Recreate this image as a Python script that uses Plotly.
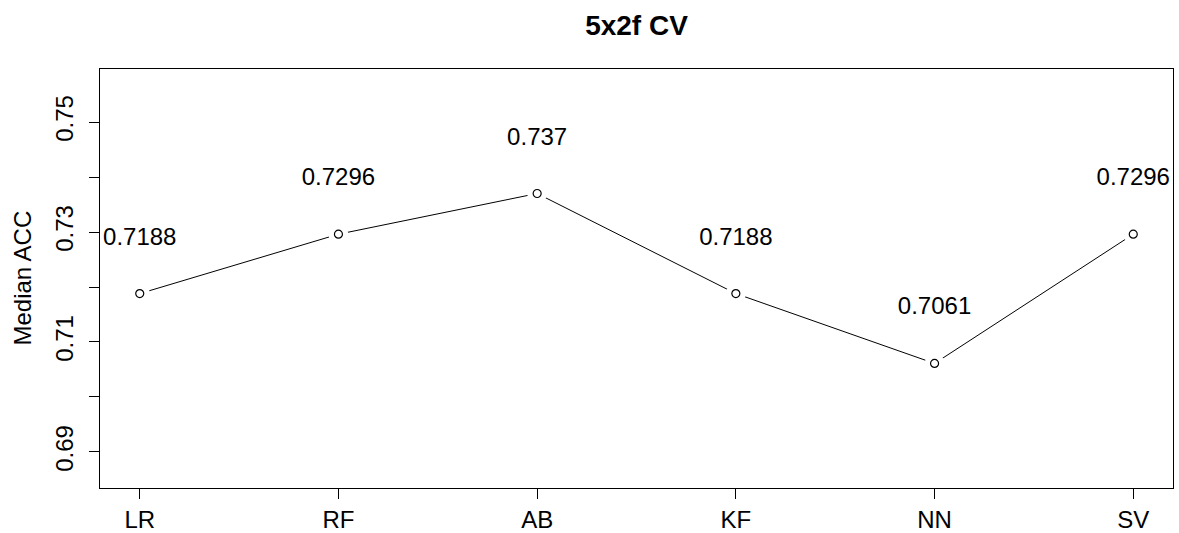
import plotly.graph_objects as go

# Median accuracy of each classifier under 5x2-fold cross-validation
models = ["LR", "RF", "AB", "KF", "NN", "SV"]
median_acc = [0.7188, 0.7296, 0.737, 0.7188, 0.7061, 0.7296]
value_labels = ["0.7188", "0.7296", "0.737", "0.7188", "0.7061", "0.7296"]

y_tickvals = [0.69, 0.70, 0.71, 0.72, 0.73, 0.74, 0.75]
y_ticktext = ["0.69", "", "0.71", "", "0.73", "", "0.75"]

xpos = list(range(1, len(models) + 1))
label_offset = 0.01
label_y = [v + label_offset for v in median_acc]

FONT = "Liberation Sans, Arial, Helvetica, sans-serif"
FS = 24

fig = go.Figure()

# connecting line
fig.add_trace(go.Scatter(
    x=xpos, y=median_acc, mode="lines",
    line=dict(color="black", width=1), hoverinfo="skip", showlegend=False,
))
# white halo so the line stops short of each point
fig.add_trace(go.Scatter(
    x=xpos, y=median_acc, mode="markers",
    marker=dict(symbol="circle", size=20, color="white", line=dict(width=0)),
    hoverinfo="skip", showlegend=False,
))
# open circle points
fig.add_trace(go.Scatter(
    x=xpos, y=median_acc, mode="markers",
    marker=dict(symbol="circle", size=8, color="white",
                line=dict(color="black", width=1.2)),
    showlegend=False,
))
# value labels above the points
fig.add_trace(go.Scatter(
    x=xpos, y=label_y, mode="text", text=value_labels,
    textposition="middle center",
    textfont=dict(family=FONT, size=FS, color="black"),
    hoverinfo="skip", showlegend=False, cliponaxis=False,
))

fig.update_layout(
    width=1179, height=533,
    margin=dict(l=100, r=6, t=69, b=45, autoexpand=False),
    paper_bgcolor="white", plot_bgcolor="white",
    font=dict(family=FONT, size=FS, color="black"),
    title=dict(
        text="<b>5x2f CV</b>", x=0.5, xref="paper", xanchor="center",
        y=1 - 25 / 533, yref="container", yanchor="middle",
        font=dict(family=FONT, size=28, color="black"),
    ),
    xaxis=dict(
        range=[0.8, 6.2], tickvals=xpos, ticktext=models,
        showgrid=False, zeroline=False, automargin=False,
        showline=True, linecolor="black", linewidth=1, mirror=True,
        ticks="outside", ticklen=10, tickwidth=1, tickcolor="black",
        tickfont=dict(family=FONT, size=FS, color="black"),
        ticklabelstandoff=0,
    ),
    yaxis=dict(
        range=[0.68345, 0.75964], tickvals=y_tickvals, ticktext=y_ticktext,
        showgrid=False, zeroline=False, automargin=False,
        showline=True, linecolor="black", linewidth=1, mirror=True,
        ticks="outside", ticklen=10, tickwidth=1, tickcolor="black",
        tickangle=-90,
        tickfont=dict(family=FONT, size=FS, color="black"),
        ticklabelstandoff=6,
    ),
    annotations=[dict(
        text="Median ACC", textangle=-90,
        xref="paper", x=0, xshift=-78, xanchor="center",
        yref="paper", y=0.5, yanchor="middle",
        showarrow=False, font=dict(family=FONT, size=FS, color="black"),
    )],
)

fig.write_html("out.html")
